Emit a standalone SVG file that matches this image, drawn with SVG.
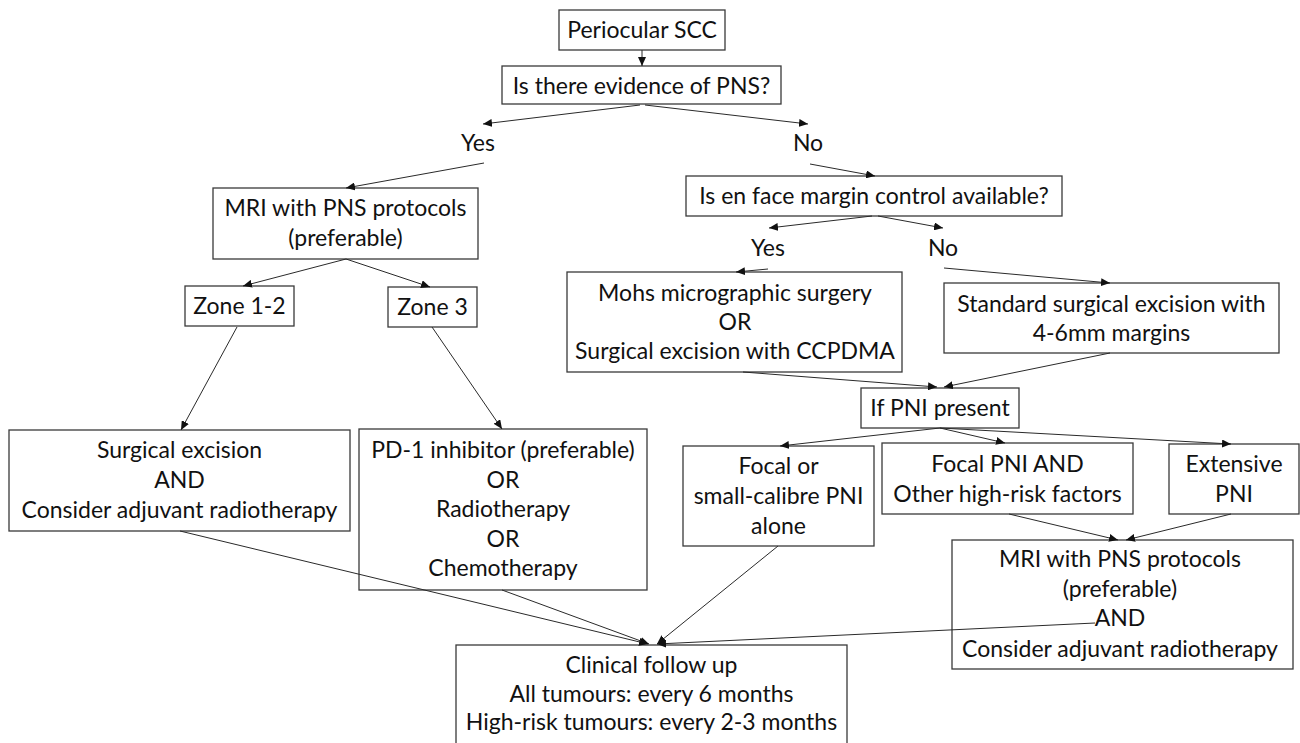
<svg xmlns="http://www.w3.org/2000/svg" width="1300" height="743" viewBox="0 0 1300 743">
<style>
.box{fill:#fff;stroke:#3a3a3a;stroke-width:1.3}
text{font-family:Lato,"Liberation Sans",sans-serif;font-size:23px;fill:#111;text-anchor:middle}
.c{fill:none;stroke:#2a2a2a;stroke-width:1;marker-end:url(#ah)}
</style>
<defs>
<marker id="ah" markerUnits="userSpaceOnUse" markerWidth="9" markerHeight="8" refX="9" refY="4" orient="auto" viewBox="0 0 9 8">
<path d="M0,0 L9,4 L0,8 z" fill="#111"/>
</marker>
</defs>
<rect width="1300" height="743" fill="#fff"/>
<g id="n-periocular"><rect class="box" x="559" y="10" width="166" height="40"/><text x="642" y="38">Periocular SCC</text></g>
<g id="n-evidence"><rect class="box" x="502" y="66" width="279" height="38"/><text x="641.5" y="94">Is there evidence of PNS?</text></g>
<g id="l-yes1"><text x="478" y="151">Yes</text></g>
<g id="l-no1"><text x="808" y="151">No</text></g>
<g id="n-mri1"><rect class="box" x="213" y="188" width="265" height="71"/><text x="345.5" y="216">MRI with PNS protocols</text><text x="345.5" y="246">(preferable)</text></g>
<g id="n-zone12"><rect class="box" x="185" y="286" width="109" height="40"/><text x="239.5" y="314">Zone 1-2</text></g>
<g id="n-zone3"><rect class="box" x="388" y="287" width="89" height="40"/><text x="432.5" y="315">Zone 3</text></g>
<g id="n-enface"><rect class="box" x="686" y="176" width="376" height="40"/><text x="874" y="204">Is en face margin control available?</text></g>
<g id="l-yes2"><text x="768" y="256">Yes</text></g>
<g id="l-no2"><text x="943" y="256">No</text></g>
<g id="n-mohs"><rect class="box" x="567" y="272" width="335" height="100"/><text x="735" y="301">Mohs micrographic surgery</text><text x="735" y="330">OR</text><text x="735" y="359">Surgical excision with CCPDMA</text></g>
<g id="n-standard"><rect class="box" x="944" y="283" width="335" height="70"/><text x="1111.5" y="312">Standard surgical excision with</text><text x="1111.5" y="341">4-6mm margins</text></g>
<g id="n-ifpni"><rect class="box" x="861" y="388" width="158" height="40"/><text x="940" y="416">If PNI present</text></g>
<g id="n-surgical"><rect class="box" x="9" y="430" width="341" height="101"/><text x="179.5" y="458">Surgical excision</text><text x="179.5" y="488">AND</text><text x="179.5" y="518">Consider adjuvant radiotherapy</text></g>
<g id="n-pd1"><rect class="box" x="359" y="429" width="288" height="161"/><text x="503" y="458">PD-1 inhibitor (preferable)</text><text x="503" y="488">OR</text><text x="503" y="517">Radiotherapy</text><text x="503" y="547">OR</text><text x="503" y="576">Chemotherapy</text></g>
<g id="n-focal"><rect class="box" x="683" y="446" width="191" height="100"/><text x="778.5" y="474">Focal or</text><text x="778.5" y="504">small-calibre PNI</text><text x="778.5" y="534">alone</text></g>
<g id="n-focalpni"><rect class="box" x="882" y="443" width="251" height="71"/><text x="1007.5" y="472">Focal PNI AND</text><text x="1007.5" y="502">Other high-risk factors</text></g>
<g id="n-extensive"><rect class="box" x="1169" y="444" width="130" height="70"/><text x="1234" y="472">Extensive</text><text x="1234" y="502">PNI</text></g>
<g id="n-mri2"><rect class="box" x="952" y="540" width="341" height="129"/><text x="1120" y="567">MRI with PNS protocols</text><text x="1120" y="597">(preferable)</text><text x="1120" y="626">AND</text><text x="1120" y="657">Consider adjuvant radiotherapy</text></g>
<g id="n-clinical"><rect class="box" x="456" y="645" width="391" height="110"/><text x="651.5" y="673">Clinical follow up</text><text x="651.5" y="702">All tumours: every 6 months</text><text x="651.5" y="730">High-risk tumours: every 2-3 months</text></g>
<g id="connectors">
<line class="c" x1="642" y1="50" x2="642" y2="66"/>
<line class="c" x1="640" y1="105" x2="483" y2="124"/>
<line class="c" x1="645" y1="105" x2="808" y2="124"/>
<line class="c" x1="484" y1="163" x2="346" y2="188"/>
<line class="c" x1="346" y1="259" x2="243" y2="286"/>
<line class="c" x1="346" y1="259" x2="430" y2="287"/>
<line class="c" x1="237" y1="327" x2="181" y2="430"/>
<line class="c" x1="432" y1="327" x2="502" y2="429"/>
<line class="c" x1="810" y1="164" x2="875" y2="176"/>
<line class="c" x1="872" y1="216" x2="769" y2="228"/>
<line class="c" x1="878" y1="216" x2="943" y2="228"/>
<line class="c" x1="768" y1="269" x2="736" y2="272"/>
<line class="c" x1="944" y1="268" x2="1110" y2="283"/>
<line class="c" x1="743" y1="372" x2="937" y2="387"/>
<line class="c" x1="1110" y1="353" x2="944" y2="387"/>
<line class="c" x1="940" y1="428" x2="780" y2="446"/>
<line class="c" x1="940" y1="428" x2="1005" y2="443"/>
<line class="c" x1="940" y1="428" x2="1231" y2="444"/>
<line class="c" x1="1009" y1="514" x2="1118" y2="540"/>
<line class="c" x1="1231" y1="514" x2="1126" y2="540"/>
<line class="c" x1="180" y1="531" x2="648" y2="644"/>
<line class="c" x1="502" y1="590" x2="649" y2="644"/>
<line class="c" x1="778" y1="546" x2="657" y2="644"/>
<line class="c" x1="1095" y1="623" x2="657" y2="644"/>
</g>
</svg>
